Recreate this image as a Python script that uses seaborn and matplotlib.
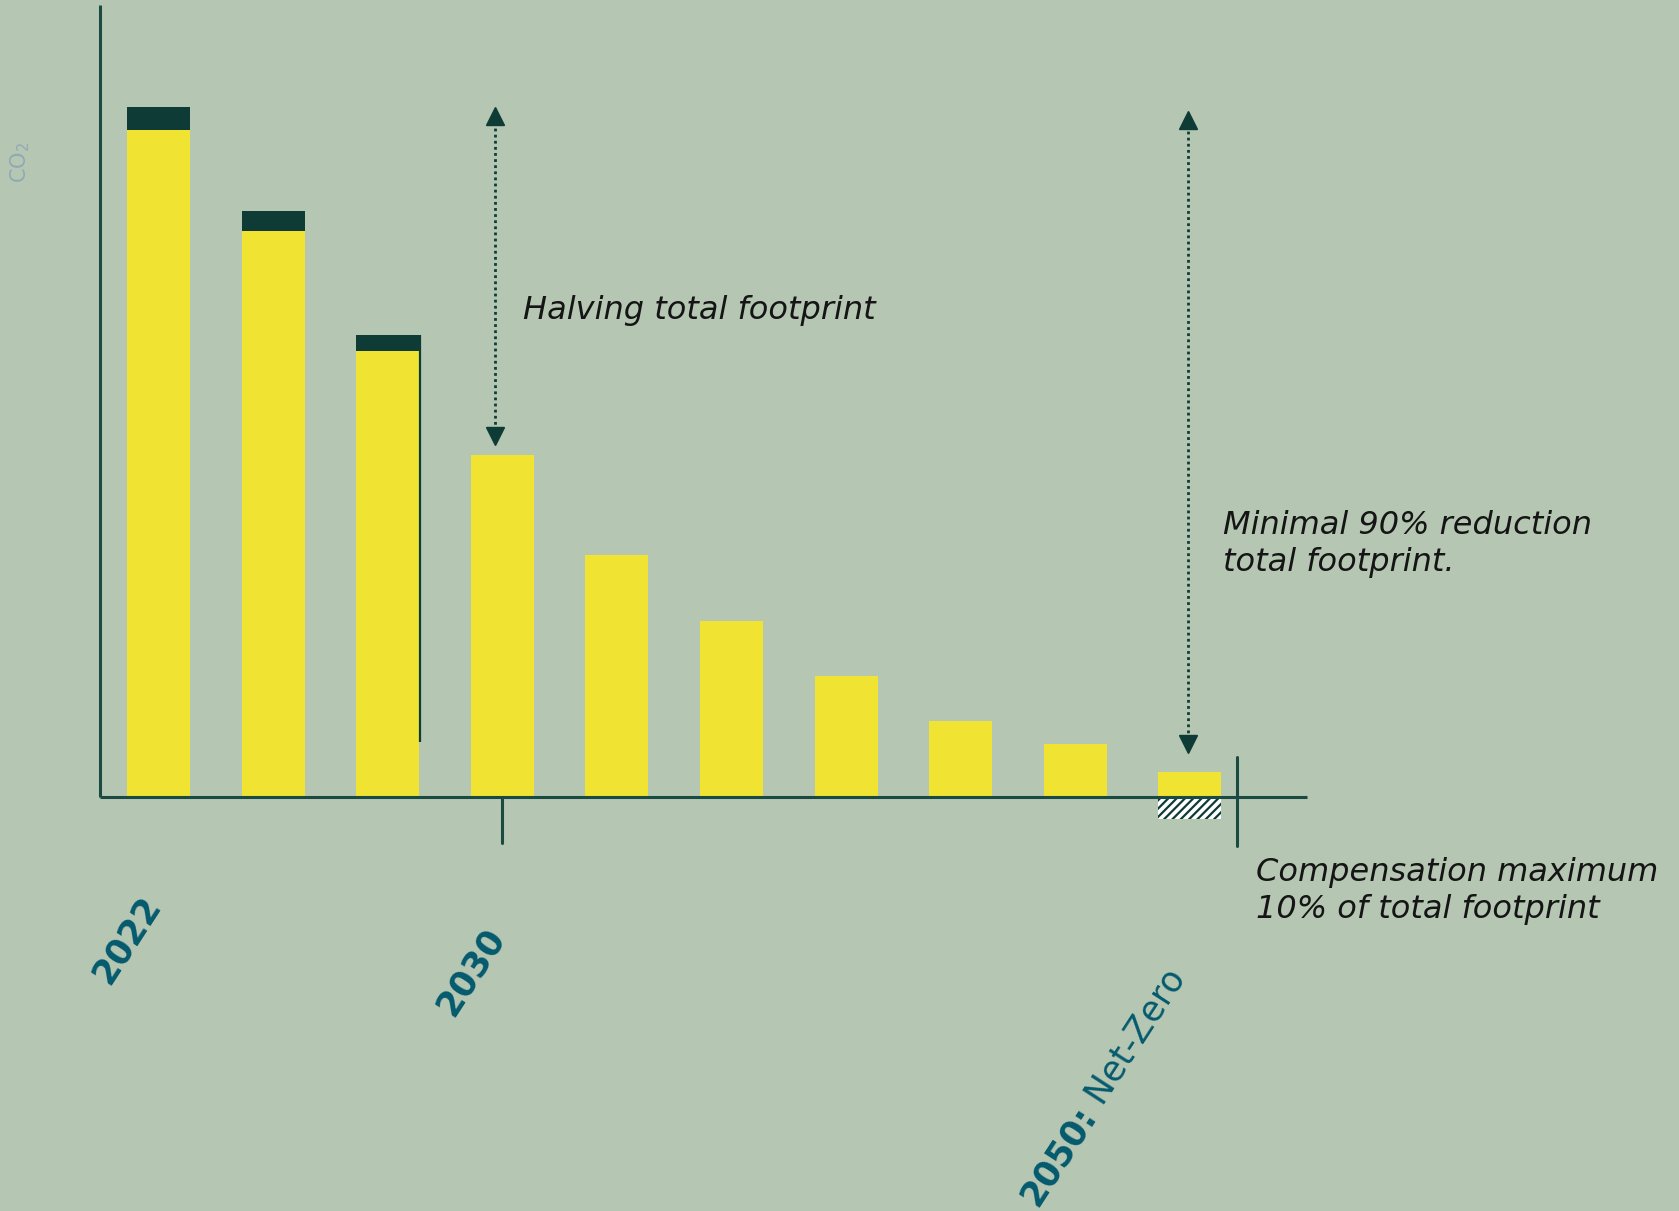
import matplotlib
matplotlib.use("Agg")
import matplotlib.pyplot as plt
import seaborn as sns
import numpy as np

# ---- data (CO2 footprint, index 2022 total = 100) ----
steps = ["S1", "S2", "S3", "S4", "S5", "S6", "S7", "S8", "S9", "S10"]
reduction_path = [96.7, 82.0, 64.6, 49.5, 35.1, 25.5, 17.5, 11.0, 7.6, 3.6]
extra_footprint = [3.3, 3.0, 2.3, 0, 0, 0, 0, 0, 0, 0]
compensation = [0, 0, 0, 0, 0, 0, 0, 0, 0, -3.2]
label_idx = [0, 3]
label_text = ["2022", "2030"]
netzero_idx = 9
netzero_bold = "2050:"
netzero_rest = " Net-Zero"

BG = "#b5c7b3"
YELLOW = "#f0e332"
DARK = "#0f3b36"
LINE = "#1b4a42"
BLUE = "#055a6e"
BAR_W = 0.55

sns.set_theme(style="white")
plt.rcParams["font.family"] = ["DejaVu Sans"]
plt.rcParams["hatch.linewidth"] = 1.6

fig = plt.figure(figsize=(16.79, 12.11), dpi=100, facecolor=BG)
ax = fig.add_axes([0, 0, 1, 1])
ax.set_facecolor(BG)

totals = [a + b for a, b in zip(reduction_path, extra_footprint)]
sns.barplot(x=steps, y=totals, order=steps, color=DARK, saturation=1,
            width=BAR_W, linewidth=0, errorbar=None, ax=ax)
sns.barplot(x=steps, y=reduction_path, order=steps, color=YELLOW, saturation=1,
            width=BAR_W, linewidth=0, errorbar=None, ax=ax)
sns.barplot(x=steps, y=compensation, order=steps, color="white", saturation=1,
            width=BAR_W, linewidth=0, errorbar=None, ax=ax,
            hatch="////", edgecolor=DARK)

# thin dark edge on the third bar (as in the reference artwork)
ax.plot([2 + BAR_W / 2 + 0.008] * 2, [7.9, totals[2]], color=DARK, lw=1.6,
        solid_capstyle="butt")

ax.set_xlim(-1.383, 13.268)
ax.set_ylim(-60.08, 115.53)
ax.axis("off")

# axes lines
x0 = -0.514
ax.plot([x0, x0], [0, 114.75], color=LINE, lw=2.2, solid_capstyle="butt")
ax.plot([x0, 10.02], [0, 0], color=LINE, lw=2.2, solid_capstyle="butt")
ax.plot([3, 3], [0, -6.7], color=LINE, lw=2.2)
ax.plot([netzero_idx + 0.41] * 2, [5.8, -7.15], color=LINE, lw=2.2)

# arrows
def dotted_arrow(x, top, bottom):
    ax.plot([x, x], [top - 2.0, bottom + 2.0], color=DARK, lw=2.0,
            linestyle=(0, (1, 1.2)))
    ax.plot([x], [top - 1.2], marker="^", color=DARK, markersize=13, mec=DARK)
    ax.plot([x], [bottom + 1.2], marker="v", color=DARK, markersize=13, mec=DARK)

dotted_arrow(3 - 0.06, totals[0] - 0.1, reduction_path[3] + 1.6)
dotted_arrow(netzero_idx - 0.02, totals[0] - 0.6, reduction_path[netzero_idx] + 2.8)

# annotations
ann_kw = dict(color="#151515", fontsize=23, style="italic", va="center", ha="left",
              linespacing=1.25)
ax.text(3.18, 70.5, "Halving total footprint", **ann_kw)
ax.text(9.29, 36.6, "Minimal 90% reduction\ntotal footprint.", **ann_kw)
ax.text(9.58, -13.7, "Compensation maximum\n10% of total footprint", **ann_kw)

ax.text(-1.21, 92.0, "CO$_2$", rotation=90, color="#91a9b3", fontsize=15,
        ha="center", va="center")

# year labels
for i, t in zip(label_idx, label_text):
    ax.text(i - 0.275, -20.8 - (4.6 if i == 3 else 0), t, rotation=57,
            rotation_mode="anchor", ha="center", va="center",
            fontsize=25, fontweight="bold", color=BLUE)
ax.text(netzero_idx - 0.81, -46.2, netzero_bold, rotation=57, rotation_mode="anchor",
        ha="right", va="baseline", fontsize=25, fontweight="bold", color=BLUE)
ax.text(netzero_idx - 0.81, -46.2, netzero_rest, rotation=57, rotation_mode="anchor",
        ha="left", va="baseline", fontsize=25, color=BLUE)

fig.savefig("out.png", dpi=100, facecolor=BG)
